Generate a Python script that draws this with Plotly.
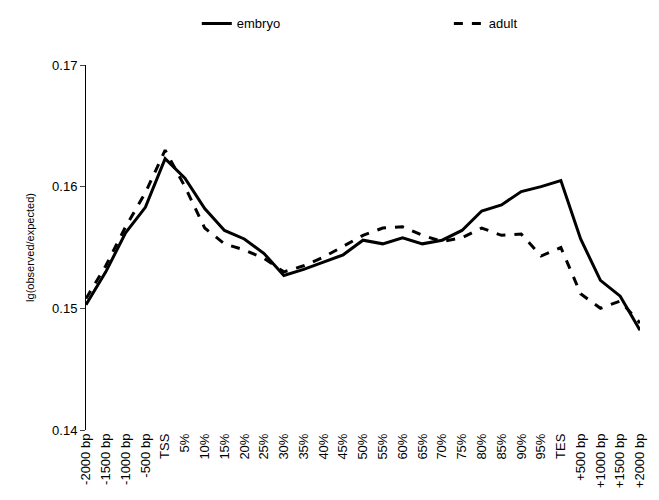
import plotly.graph_objects as go

categories = ["-2000 bp", "-1500 bp", "-1000 bp", "-500 bp", "TSS",
              "5%", "10%", "15%", "20%", "25%", "30%", "35%", "40%", "45%", "50%",
              "55%", "60%", "65%", "70%", "75%", "80%", "85%", "90%", "95%",
              "TES", "+500 bp", "+1000 bp", "+1500 bp", "+2000 bp"]

embryo = [0.1503, 0.1530, 0.1562, 0.1583, 0.1623, 0.1607, 0.1582, 0.1564, 0.1557,
          0.1545, 0.1527, 0.1532, 0.1538, 0.1544, 0.1556, 0.1553, 0.1558, 0.1553,
          0.1556, 0.1564, 0.1580, 0.1585, 0.1596, 0.1600, 0.1605, 0.1557, 0.1523,
          0.1510, 0.1482]

adult = [0.1508, 0.1535, 0.1567, 0.1595, 0.1630, 0.1600, 0.1566, 0.1553, 0.1548,
         0.1541, 0.1530, 0.1535, 0.1542, 0.1551, 0.1560, 0.1566, 0.1567, 0.1560,
         0.1555, 0.1558, 0.1566, 0.1560, 0.1561, 0.1543, 0.1550, 0.1512, 0.1500,
         0.1506, 0.1488]

x = list(range(len(categories)))

fig = go.Figure()
fig.add_trace(go.Scatter(x=x, y=embryo, mode="lines", name="embryo", showlegend=True,
                         line=dict(color="black", width=3), legend="legend"))
fig.add_trace(go.Scatter(x=x, y=adult, mode="lines", name="adult", showlegend=True,
                         line=dict(color="black", width=3, dash="dash"), legend="legend2"))

fig.update_layout(
    width=659, height=500, showlegend=True,
    paper_bgcolor="white", plot_bgcolor="white",
    font=dict(family="Liberation Sans, Arial", size=13, color="black"),
    margin=dict(l=78, r=27, t=57, b=78, autoexpand=False),
    legend=dict(x=0.2, xanchor="left", y=1.155, yanchor="top", font=dict(size=13)),
    legend2=dict(x=0.655, xanchor="left", y=1.155, yanchor="top", font=dict(size=13)),
    xaxis=dict(tickmode="array", tickvals=x, ticktext=categories, tickangle=-90,
               range=[0, len(categories) - 1], showgrid=False, showline=False,
               zeroline=False, ticks=""),
    yaxis=dict(title=dict(text="lg(observed/expected)", font=dict(size=11)),
               range=[0.14, 0.17], tickvals=[0.14, 0.15, 0.16, 0.17],
               tickformat=".2f", showgrid=False, showline=True, linecolor="black",
               linewidth=1, ticks="outside", ticklen=5, zeroline=False),
)

fig.write_html("out.html")
